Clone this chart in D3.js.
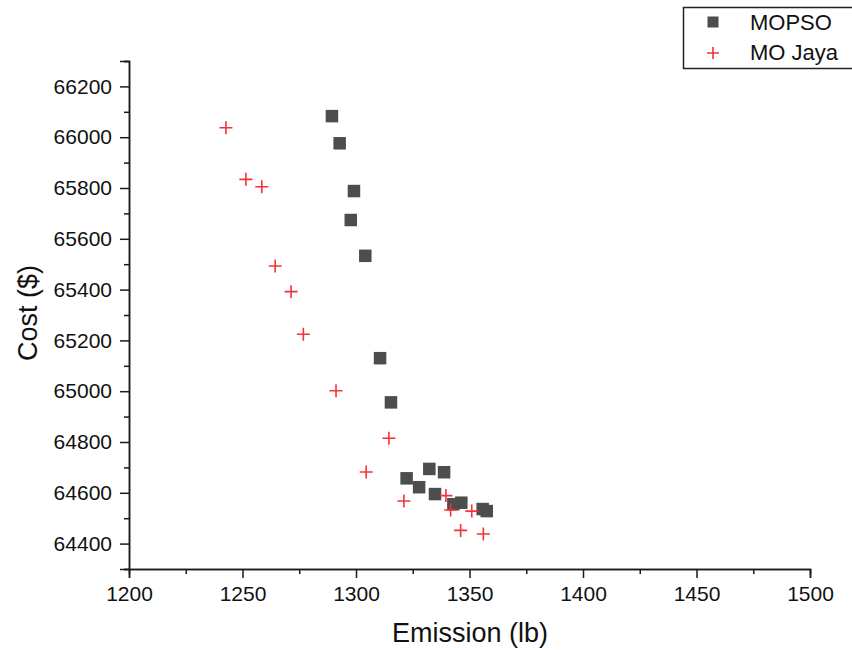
<!DOCTYPE html>
<html>
<head>
<meta charset="utf-8">
<script src="https://cdn.jsdelivr.net/npm/d3@7"></script>
<style>
  html, body { margin: 0; padding: 0; background: #fff; }
  svg { display: block; font-family: "Liberation Sans", Arial, sans-serif; }
</style>
</head>
<body>
<svg id="chart" width="852" height="650"></svg>
<script>
// ---- data ----
const mopsoEmission = [1289.4, 1292.8, 1299.1, 1297.7, 1304.1, 1310.6, 1315.4, 1322.3, 1327.8, 1332.3, 1338.8, 1334.8, 1342.9, 1346.4, 1355.8, 1357.6];
const mopsoCost     = [66083, 65976, 65788, 65674, 65533, 65130, 64956, 64657, 64622, 64694, 64681, 64595, 64555, 64561, 64536, 64528];
const jayaEmission  = [1242.7, 1251.5, 1258.5, 1264.4, 1271.4, 1276.8, 1291.2, 1314.5, 1304.5, 1321.1, 1339.6, 1341.7, 1351.0, 1346.1, 1356.1];
const jayaCost      = [66037, 65834, 65805, 65493, 65392, 65224, 65002, 64815, 64682, 64568, 64589, 64532, 64528, 64452, 64438];
const xTicks = [1200, 1250, 1300, 1350, 1400, 1450, 1500];
const yTicks = [64400, 64600, 64800, 65000, 65200, 65400, 65600, 65800, 66000, 66200];
const seriesNames = ["MOPSO", "MO Jaya"];

(function () {
// ---- layout ----
const svg = d3.select("#chart");
const pL = 129, pR = 810, pT = 61, pB = 569;
const x = d3.scaleLinear().domain([1200, 1500]).range([pL, pR]);
const y = d3.scaleLinear().domain([64300, 66300]).range([pB, pT]);

const axisColor = "#1a1a1a";
const tickFont = 21;

// x axis
const gx = svg.append("g").attr("transform", `translate(0,${pB})`);
gx.call(d3.axisBottom(x).tickValues(d3.range(1225, 1500, 50)).tickSize(5).tickFormat(""));
gx.append("g").call(d3.axisBottom(x).tickValues(xTicks).tickSize(9).tickPadding(8).tickFormat(d3.format("d")));
gx.selectAll(".domain").attr("stroke", axisColor).attr("stroke-width", 1.5);
gx.selectAll("line").attr("stroke", axisColor).attr("stroke-width", 1.5);
gx.selectAll("text").attr("font-size", tickFont).attr("fill", "#111").attr("font-family", "Liberation Sans, Arial, sans-serif");

// y axis
const gy = svg.append("g").attr("transform", `translate(${pL},0)`);
gy.call(d3.axisLeft(y).tickValues(d3.range(64300, 66400, 200)).tickSize(5).tickFormat(""));
gy.append("g").call(d3.axisLeft(y).tickValues(yTicks).tickSize(9).tickPadding(8).tickFormat(d3.format("d")));
gy.selectAll(".domain").attr("stroke", axisColor).attr("stroke-width", 1.5);
gy.selectAll("line").attr("stroke", axisColor).attr("stroke-width", 1.5);
gy.selectAll("text").attr("font-size", tickFont).attr("fill", "#111").attr("font-family", "Liberation Sans, Arial, sans-serif");

// axis titles
svg.append("text")
  .attr("x", 470).attr("y", 642)
  .attr("text-anchor", "middle").attr("font-size", 27).attr("fill", "#111")
  .text("Emission (lb)");
svg.append("text")
  .attr("transform", `translate(37,313) rotate(-90)`)
  .attr("text-anchor", "middle").attr("font-size", 27).attr("fill", "#111")
  .text("Cost ($)");

// data
const mopso = mopsoEmission.map((e, i) => ({ e, c: mopsoCost[i] }));
const jaya = jayaEmission.map((e, i) => ({ e, c: jayaCost[i] }));
const sq = 12.5;
svg.append("g").selectAll("rect").data(mopso).join("rect")
  .attr("x", d => x(d.e) - sq / 2).attr("y", d => y(d.c) - sq / 2)
  .attr("width", sq).attr("height", sq)
  .attr("fill", "#4d4d4d");

const cr = 6.5;
const crossPath = d => `M${x(d.e) - cr},${y(d.c)}H${x(d.e) + cr}M${x(d.e)},${y(d.c) - cr}V${y(d.c) + cr}`;
svg.append("g").selectAll("path").data(jaya).join("path")
  .attr("d", crossPath)
  .attr("stroke", "#f2333a").attr("stroke-width", 1.6).attr("fill", "none");

// legend
const lg = svg.append("g");
lg.append("rect").attr("x", 683.5).attr("y", 7.5).attr("width", 180).attr("height", 61)
  .attr("fill", "#fff").attr("stroke", "#222").attr("stroke-width", 1.5);
lg.append("rect").attr("x", 713 - 5.5).attr("y", 22 - 5.5).attr("width", 11).attr("height", 11).attr("fill", "#4d4d4d");
lg.append("path").attr("d", `M${713 - 6},53H${713 + 6}M713,${53 - 6}V${53 + 6}`)
  .attr("stroke", "#f2333a").attr("stroke-width", 1.6);
lg.selectAll("text.lab").data(seriesNames).join("text")
  .attr("class", "lab")
  .attr("x", 750).attr("y", (d, i) => 30 + i * 30)
  .attr("font-size", 22).attr("fill", "#111")
  .text(d => d);
})();
</script>
</body>
</html>
